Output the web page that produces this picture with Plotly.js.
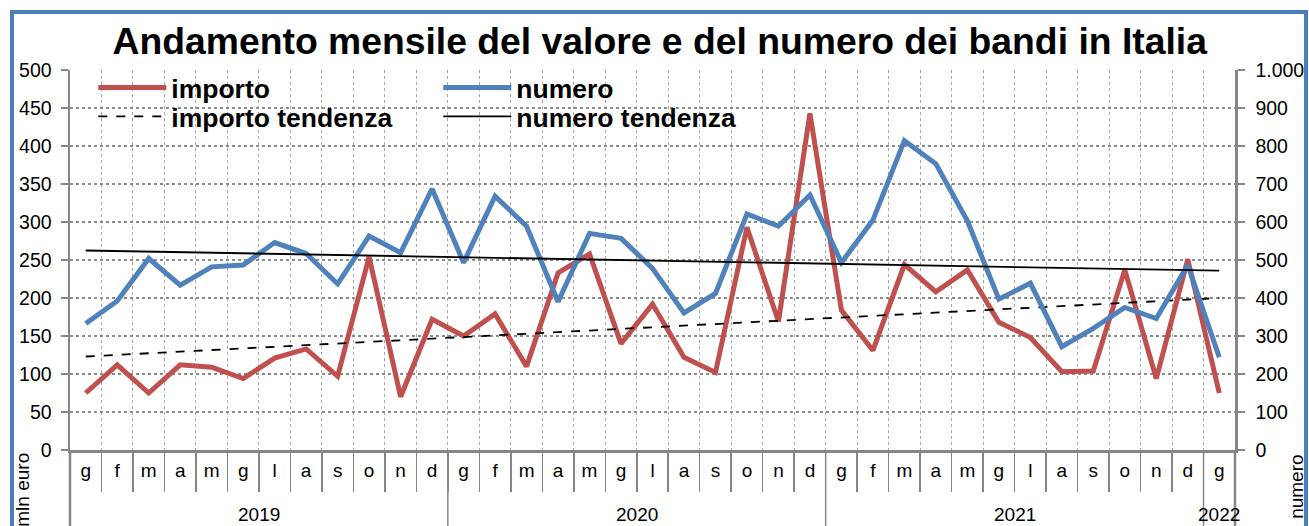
<!DOCTYPE html>
<html><head><meta charset="utf-8">
<script src="https://cdn.plot.ly/plotly-3.0.1.min.js"></script>
<style>
html,body{margin:0;padding:0;background:#fff;overflow:hidden}
#wrap{position:relative;width:1309px;height:526px;overflow:hidden}
#chart{width:1309px;height:526px}
#frame{position:absolute;left:10px;top:10px;width:1298px;height:600px;border:4px solid #4A7EBB;box-sizing:border-box;pointer-events:none}
</style></head><body>
<div id="wrap"><div id="chart"></div><div id="frame"></div></div>
<script>
// ---- data ----
const monthLabels = ['g','f','m','a','m','g','l','a','s','o','n','d',
                     'g','f','m','a','m','g','l','a','s','o','n','d',
                     'g','f','m','a','m','g','l','a','s','o','n','d',
                     'g'];
const years = ['2019','2020','2021','2022'];
const monthsPerYear = [12, 12, 12, 1];
const importo = [75,112,75,112,109,94,121,133,97,254,70,172,
                 150,179,110,233,258,140,192,122,102,293,169,443,
                 184,131,244,208,237,168,148,103,104,237,94,251,
                 75];
const numero = [333,392,504,434,482,487,546,517,437,563,519,687,
                493,668,589,390,570,557,478,361,412,621,589,671,
                493,605,814,753,603,397,439,272,320,375,346,487,
                244];
const importoTrend = [123, 200];   // start / end of linear trend
const numeroTrend = [525, 472];

// ---- build ----
const idx = monthLabels.map((_, i) => i);
const n = idx.length;
const ends = [0, n - 1];
const FONT = 'Liberation Sans, Arial, sans-serif';
const GRAY = '#868686';

const traces = [
  {x: idx, y: importo, name: 'importo', type: 'scatter', mode: 'lines',
   line: {color: '#C0504D', width: 5}, yaxis: 'y', legend: 'legend'},
  {x: idx, y: numero, name: 'numero', type: 'scatter', mode: 'lines',
   line: {color: '#4F81BD', width: 5}, yaxis: 'y2', legend: 'legend'},
  {x: ends, y: importoTrend, name: 'importo tendenza', type: 'scatter', mode: 'lines',
   line: {color: '#000', width: 1.8, dash: 'dash'}, yaxis: 'y', legend: 'legend2'},
  {x: ends, y: numeroTrend, name: 'numero tendenza', type: 'scatter', mode: 'lines',
   line: {color: '#000', width: 1.8}, yaxis: 'y2', legend: 'legend2'}
];

const shapes = [];
const annotations = [];
let start = 0;
const toPaper = v => (v + 0.5) / n;
years.forEach((yr, k) => {
  const cnt = monthsPerYear[k];
  shapes.push({type: 'line', xref: 'paper', yref: 'paper', x0: toPaper(start - 0.5), x1: toPaper(start - 0.5),
    y0: 0, y1: -0.35, line: {color: GRAY, width: k === 0 ? 2.5 : 1.5}});
  annotations.push({xref: 'x', yref: 'paper', x: start + (cnt - 1) / 2, y: -0.171, text: yr,
    showarrow: false, yanchor: 'middle', font: {family: FONT, size: 19, color: '#000'}});
  start += cnt;
});
shapes.push({type: 'line', xref: 'paper', yref: 'paper', x0: 1, x1: 1, y0: 0, y1: -0.35,
  line: {color: GRAY, width: 2.5}});

annotations.push({xref: 'paper', yref: 'paper', x: -0.0405, y: -0.105, text: 'mln euro', textangle: -90,
  showarrow: false, xanchor: 'center', yanchor: 'middle', font: {family: FONT, size: 19, color: '#000'}});
annotations.push({xref: 'paper', yref: 'paper', x: 1.0532, y: -0.097, text: 'numero', textangle: -90,
  showarrow: false, xanchor: 'center', yanchor: 'middle', font: {family: FONT, size: 19, color: '#000'}});

const legendCommon = {orientation: 'h', xanchor: 'left', yanchor: 'middle', bgcolor: 'rgba(0,0,0,0)',
  font: {family: FONT, size: 26.5, color: '#000', weight: 'bold'}, entrywidth: 262, entrywidthmode: 'pixels',
  itemwidth: 68, traceorder: 'normal'};

const layout = {
  width: 1309, height: 526,
  margin: {l: 70, r: 74, t: 70, b: 76},
  paper_bgcolor: '#fff', plot_bgcolor: '#fff',
  separators: ',.',
  title: {text: 'Andamento mensile del valore e del numero dei bandi in Italia',
    x: 0.504, xref: 'container', xanchor: 'center', y: 0.922, yref: 'container', yanchor: 'middle',
    font: {family: FONT, size: 37.3, color: '#000', weight: 'bold'}},
  xaxis: {type: 'linear', range: [-0.5, n - 0.5], tickmode: 'array', tickvals: idx, ticktext: monthLabels,
    ticks: '', showgrid: false, zeroline: false, showline: true, linecolor: GRAY, linewidth: 2.5,
    ticklabelstandoff: 2, tickfont: {family: FONT, size: 19, color: '#000'},
    minor: {tickmode: 'linear', tick0: 0.5, dtick: 1, ticks: 'outside', ticklen: 39, tickwidth: 1.5,
      tickcolor: GRAY, showgrid: true, gridcolor: '#A6A6A6', griddash: 'dot', gridwidth: 1}},
  yaxis: {range: [0, 500], dtick: 50, tick0: 0, ticks: 'outside', ticklen: 7, tickwidth: 1.5, tickcolor: GRAY,
    showline: true, linecolor: GRAY, linewidth: 2.5, zeroline: false,
    showgrid: true, gridcolor: '#8C8C8C', griddash: 'dot', gridwidth: 1.5,
    ticklabelstandoff: 5,
    tickfont: {family: FONT, size: 19.5, color: '#000'}},
  yaxis2: {range: [0, 1000], dtick: 100, tick0: 0, overlaying: 'y', side: 'right', ticks: 'outside',
    ticklen: 7, tickwidth: 1.5, tickcolor: GRAY, showline: true, linecolor: GRAY, linewidth: 2.5,
    zeroline: false, showgrid: false, separatethousands: true, tickformat: ',d',
    ticklabelstandoff: 7,
    tickfont: {family: FONT, size: 19.5, color: '#000'}},
  legend: Object.assign({x: 0.02, y: 0.953}, legendCommon),
  legend2: Object.assign({x: 0.02, y: 0.877}, legendCommon),
  showlegend: true,
  shapes: shapes,
  annotations: annotations
};

Plotly.newPlot('chart', traces, layout, {displayModeBar: false, staticPlot: true});
</script>
</body></html>
